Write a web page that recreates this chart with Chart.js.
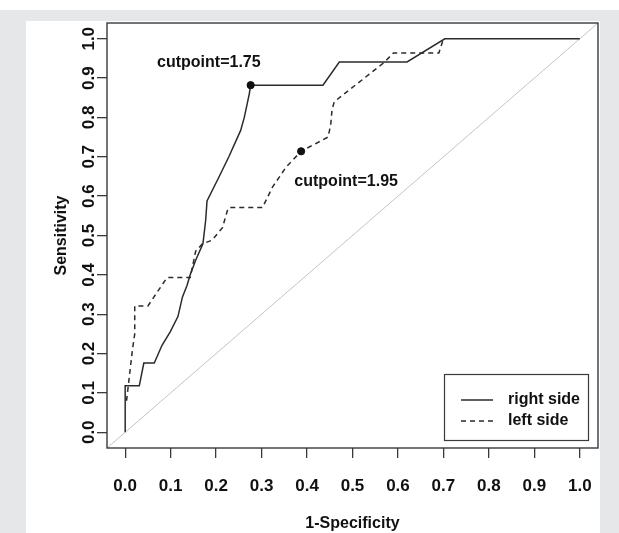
<!DOCTYPE html>
<html>
<head>
<meta charset="utf-8">
<script src="https://cdn.jsdelivr.net/npm/chart.js@4"></script>
<style>
  html, body { margin: 0; padding: 0; background: #ffffff; }
  canvas { display: block; }
</style>
</head>
<body>
<canvas id="c" width="619" height="533"></canvas>
<script>
// ---- data ----
const seriesNames = ['right side', 'left side'];

const rightX = [0, 0, 0.031, 0.041, 0.064, 0.081, 0.099, 0.116, 0.126, 0.136, 0.143, 0.155, 0.171, 0.177, 0.180, 0.206, 0.228, 0.254, 0.262, 0.273, 0.276, 0.435, 0.471, 0.620, 0.703, 1.0];
const rightY = [0, 0.118, 0.118, 0.176, 0.176, 0.221, 0.255, 0.294, 0.344, 0.373, 0.400, 0.437, 0.479, 0.538, 0.588, 0.648, 0.700, 0.767, 0.800, 0.860, 0.882, 0.882, 0.941, 0.941, 1.0, 1.0];

const leftX = [0.003, 0.010, 0.016, 0.021, 0.021, 0.050, 0.092, 0.143, 0.155, 0.170, 0.191, 0.214, 0.225, 0.228, 0.302, 0.324, 0.354, 0.387, 0.446, 0.452, 0.455, 0.460, 0.570, 0.590, 0.690, 0.700];
const leftY = [0.080, 0.150, 0.210, 0.250, 0.321, 0.321, 0.393, 0.393, 0.460, 0.479, 0.488, 0.520, 0.564, 0.571, 0.571, 0.623, 0.674, 0.714, 0.750, 0.780, 0.820, 0.840, 0.940, 0.964, 0.964, 1.0];

const cutpointX = [0.276, 0.387];
const cutpointY = [0.882, 0.714];
const cutpointLabels = ['cutpoint=1.75', 'cutpoint=1.95'];
const cutpointLabelX = [0.184, 0.486];
const cutpointLabelY = [0.940, 0.637];

const refLineX = [-0.04, 1.04];
const refLineY = [-0.04, 1.04];

const xTickValues = [0, 0.1, 0.2, 0.3, 0.4, 0.5, 0.6, 0.7, 0.8, 0.9, 1.0];
const xTickLabels = ['0.0', '0.1', '0.2', '0.3', '0.4', '0.5', '0.6', '0.7', '0.8', '0.9', '1.0'];
const yTickValues = [0, 0.1, 0.2, 0.3, 0.4, 0.5, 0.6, 0.7, 0.8, 0.9, 1.0];
const yTickLabels = ['0.0', '0.1', '0.2', '0.3', '0.4', '0.5', '0.6', '0.7', '0.8', '0.9', '1.0'];

const xTitle = '1-Specificity';
const yTitle = 'Sensitivity';

// ---- helpers ----
const zip = (xs, ys) => xs.map((x, i) => ({ x: x, y: ys[i] }));
const FONT = "'Liberation Sans', Arial, Helvetica, sans-serif";
const INK = '#2b2b2b';

const backgroundPlugin = {
  id: 'panelBackground',
  beforeDraw(chart) {
    const c = chart.ctx;
    c.save();
    c.fillStyle = '#ffffff';
    c.fillRect(0, 0, chart.width, chart.height);
    c.fillStyle = '#e6e7e8';
    c.fillRect(0, 10, chart.width, chart.height - 10);
    c.fillStyle = '#ffffff';
    c.fillRect(26, 21, 574, chart.height - 21);
    c.restore();
  }
};

const frameAndTextPlugin = {
  id: 'frameAndText',
  afterDatasetsDraw(chart) {
    const c = chart.ctx;
    const a = chart.chartArea;
    const xs = chart.scales.x, ys = chart.scales.y;
    c.save();
    // plot frame
    c.strokeStyle = '#3a3a3a';
    c.lineWidth = 1.4;
    c.strokeRect(a.left, a.top, a.right - a.left, a.bottom - a.top);
    // cutpoint labels
    c.fillStyle = '#111111';
    c.font = 'bold 16px ' + FONT;
    c.textAlign = 'center';
    c.textBaseline = 'middle';
    cutpointLabels.forEach((t, i) => {
      c.fillText(t, xs.getPixelForValue(cutpointLabelX[i]), ys.getPixelForValue(cutpointLabelY[i]));
    });
    // legend (bottom right, inset)
    const bw = 144, bh = 66;
    const bx = a.right - 10 - bw, by = a.bottom - 8 - bh;
    c.strokeStyle = '#3a3a3a';
    c.lineWidth = 1.2;
    c.strokeRect(bx + 0.5, by + 0.5, bw, bh);
    const legendDs = chart.data.datasets.filter(d => seriesNames.includes(d.label));
    legendDs.forEach((d, i) => {
      const ly = by + 26 + i * 21;
      c.beginPath();
      c.strokeStyle = d.borderColor;
      c.lineWidth = d.borderWidth;
      c.setLineDash(d.borderDash || []);
      c.moveTo(bx + 17, ly);
      c.lineTo(bx + 49, ly);
      c.stroke();
      c.setLineDash([]);
      c.fillStyle = '#111111';
      c.textAlign = 'left';
      c.fillText(d.label, bx + 64, ly);
    });
    c.restore();
  }
};

new Chart(document.getElementById('c'), {
  type: 'line',
  data: {
    datasets: [
      {
        label: 'cutpoints',
        data: zip(cutpointX, cutpointY),
        showLine: false,
        pointRadius: 3.6,
        pointBackgroundColor: '#111111',
        pointBorderColor: '#111111',
        borderColor: '#111111',
        order: 0
      },
      {
        label: seriesNames[0],
        data: zip(rightX, rightY),
        borderColor: INK,
        borderWidth: 1.5,
        pointRadius: 0,
        tension: 0,
        fill: false,
        order: 1
      },
      {
        label: seriesNames[1],
        data: zip(leftX, leftY),
        borderColor: INK,
        borderWidth: 1.5,
        borderDash: [5, 4],
        pointRadius: 0,
        tension: 0,
        fill: false,
        order: 2
      },
      {
        label: 'reference',
        data: zip(refLineX, refLineY),
        borderColor: '#c4c4c4',
        borderWidth: 1,
        pointRadius: 0,
        tension: 0,
        fill: false,
        order: 3
      }
    ]
  },
  options: {
    responsive: false,
    animation: false,
    devicePixelRatio: 1,
    layout: { padding: { left: 0, right: 21, top: 23, bottom: 0 } },
    plugins: {
      legend: { display: false },
      tooltip: { enabled: false }
    },
    scales: {
      x: {
        type: 'linear',
        min: -0.04,
        max: 1.04,
        afterBuildTicks: s => { s.ticks = xTickValues.map(v => ({ value: v })); },
        afterFit: s => { s.height = 85; },
        border: { display: false },
        grid: {
          drawOnChartArea: false,
          drawTicks: true,
          tickLength: 10,
          color: '#3a3a3a',
          lineWidth: 1.3
        },
        ticks: {
          autoSkip: false,
          maxRotation: 0,
          minRotation: 0,
          padding: 18,
          color: '#111111',
          font: { family: FONT, size: 17, weight: 'bold' },
          callback: (v, i) => xTickLabels[i]
        },
        title: {
          display: true,
          text: xTitle,
          color: '#111111',
          font: { family: FONT, size: 16, weight: 'bold' },
          padding: { top: 0, bottom: 0 }
        }
      },
      y: {
        type: 'linear',
        min: -0.04,
        max: 1.04,
        afterBuildTicks: s => { s.ticks = yTickValues.map(v => ({ value: v })); },
        afterFit: s => { s.width = 107; },
        border: { display: false },
        grid: {
          drawOnChartArea: false,
          drawTicks: true,
          tickLength: 10,
          color: '#3a3a3a',
          lineWidth: 1.3
        },
        ticks: {
          autoSkip: false,
          minRotation: 90,
          maxRotation: 90,
          crossAlign: 'center',
          padding: -4,
          color: '#111111',
          font: { family: FONT, size: 17, weight: 'bold' },
          callback: (v, i) => yTickLabels[i]
        },
        title: {
          display: true,
          text: yTitle,
          color: '#111111',
          font: { family: FONT, size: 16, weight: 'bold' },
          padding: { top: 52, bottom: 0 }
        }
      }
    }
  },
  plugins: [backgroundPlugin, frameAndTextPlugin]
});
</script>
</body>
</html>
